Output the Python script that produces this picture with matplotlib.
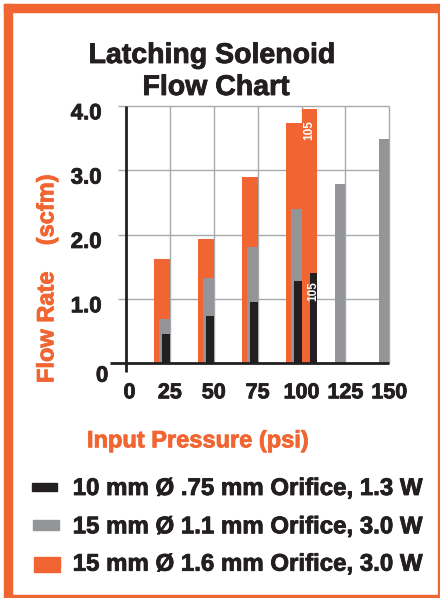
import numpy as np
import matplotlib
matplotlib.use('Agg')
from matplotlib import pyplot as plt
from matplotlib.patches import Rectangle
from matplotlib import transforms
import matplotlib.patheffects as pe

plt.rcParams['font.family'] = ['Liberation Sans', 'DejaVu Sans']
plt.rcParams['font.weight'] = 'bold'

# data (psi -> scfm)
pressure = np.array([25, 50, 75, 100, 105, 125, 150])
flow_075 = np.array([0.46, 0.73, 0.96, 1.28, 1.41, np.nan, np.nan])
flow_11 = np.array([0.69, 1.32, 1.81, 2.40, np.nan, 2.79, 3.48])
flow_16 = np.array([1.62, 1.93, 2.89, 3.74, 3.95, np.nan, np.nan])
labels = ['10 mm \u00d8 .75 mm Orifice, 1.3 W',
          '15 mm \u00d8 1.1 mm Orifice, 3.0 W',
          '15 mm \u00d8 1.6 mm Orifice, 3.0 W']
x_ticks = [0, 25, 50, 75, 100, 125, 150]
y_ticks = [1.0, 2.0, 3.0, 4.0]

ORANGE = '#F16532'
GRAY = '#939598'
BLACK = '#231F20'
GRID = '#A7A9AC'

W, H = 440, 598
def fx(px):
    return px / W
def fy(py):
    return 1 - py / H

def heavy(c, w=0.6):
    # reference type is a touch heavier than Liberation Sans Bold
    return [pe.withStroke(linewidth=w, foreground=c)]

fig = plt.figure(figsize=(W / 100, H / 100), dpi=100)

# orange frame
fig.patches.append(Rectangle((fx(4), fy(12)), fx(436), 8 / H, transform=fig.transFigure, color=ORANGE))
fig.patches.append(Rectangle((fx(4), fy(597)), 8 / W, 593 / H, transform=fig.transFigure, color=ORANGE))
fig.patches.append(Rectangle((fx(438), fy(597)), 1.5 / W, 593 / H, transform=fig.transFigure, color=ORANGE))
fig.patches.append(Rectangle((fx(4), fy(596.5)), fx(435), 1.5 / H, transform=fig.transFigure, color=ORANGE))

fig.text(fx(212), fy(63), 'Latching Solenoid', ha='center', va='baseline', fontsize=20.5,
         color=BLACK, path_effects=heavy(BLACK))
fig.text(fx(216), fy(95), 'Flow Chart', ha='center', va='baseline', fontsize=20.5,
         color=BLACK, path_effects=heavy(BLACK))

ax = fig.add_axes([fx(118.1), fy(372.3), (390.2 - 118.1) / W, (372.3 - 106) / H])
ax.set_xlim(-4.5, 150.5)
ax.set_ylim(-0.14, 4.0)
ax.axis('off')

ax.hlines(y_ticks, -4.5, 150, color=GRID, lw=1, zorder=0, clip_on=False)
ax.vlines(x_ticks[1:], 0, 4.0, color=GRID, lw=1, zorder=0, clip_on=False)
ax.vlines(0, -0.14, 4.0, color=BLACK, lw=2, zorder=5, clip_on=False)
ax.hlines(0, -9, 150, color=BLACK, lw=2, zorder=5, clip_on=False)

# bars are right-aligned to their pressure; the 105 group sits just right of 100
x_edge = np.where(pressure == 105, pressure + 4, pressure)
b16 = ax.bar(x_edge, flow_16, width=-9, align='edge', color=ORANGE, zorder=2)
ax.bar(x_edge, flow_11, width=-6, align='edge', color=GRAY, zorder=3)
b075 = ax.bar(x_edge, flow_075, width=-4.3, align='edge', color=BLACK, zorder=4)

i105 = list(pressure).index(105)
for bars, off in [(b16, -8), (b075, -6.3)]:
    r = bars[i105]
    ax.annotate('105', (r.get_x() + r.get_width() / 2, r.get_height()), xytext=(0, off),
                textcoords='offset points', rotation=90, ha='center', va='top',
                color='white', fontsize=8.5, zorder=6)

# tick labels
xt = ax.get_xaxis_transform()
for p in x_ticks:
    ax.text(p + (2 if p == 0 else 0), 0, str(p),
            transform=transforms.offset_copy(xt, fig=fig, y=-(398.3 - 372.3), units='dots'),
            ha='center', va='baseline', fontsize=15.5, color=BLACK, path_effects=heavy(BLACK))
yt = ax.get_yaxis_transform()
for v in y_ticks:
    ax.text((101.7 - 118.1) / 272.1, v, '%.1f' % v,
            transform=transforms.offset_copy(yt, fig=fig, y=-13.3, units='dots'),
            ha='right', va='baseline', fontsize=16, color=BLACK, path_effects=heavy(BLACK))
ax.text((108.3 - 118.1) / 272.1, 0, '0',
        transform=transforms.offset_copy(yt, fig=fig, y=-18.4, units='dots'),
        ha='right', va='baseline', fontsize=16, color=BLACK, path_effects=heavy(BLACK))

fig.text(fx(87), fy(447.3), 'Input Pressure (psi)', ha='left', va='baseline',
         fontsize=17, color=ORANGE, path_effects=heavy(ORANGE))
fig.text(fx(53.3), fy(383), 'Flow Rate    (scfm)', rotation=90, rotation_mode='anchor',
         ha='left', va='baseline', fontsize=17, color=ORANGE, path_effects=heavy(ORANGE))

# legend
swatches = [(32, 483, 25, 8, BLACK), (33, 520, 26, 10, GRAY), (34, 557, 26, 15, ORANGE)]
baselines = [495, 533.3, 570.7]
for (x0, y0, w, h, c), lab, bl in zip(swatches, labels, baselines):
    fig.patches.append(Rectangle((fx(x0), fy(y0 + h)), w / W, h / H, transform=fig.transFigure, color=c))
    fig.text(fx(72.7), fy(bl), lab, ha='left', va='baseline', fontsize=17.3, color=BLACK,
             path_effects=heavy(BLACK))

fig.savefig('out.png', dpi=100)
